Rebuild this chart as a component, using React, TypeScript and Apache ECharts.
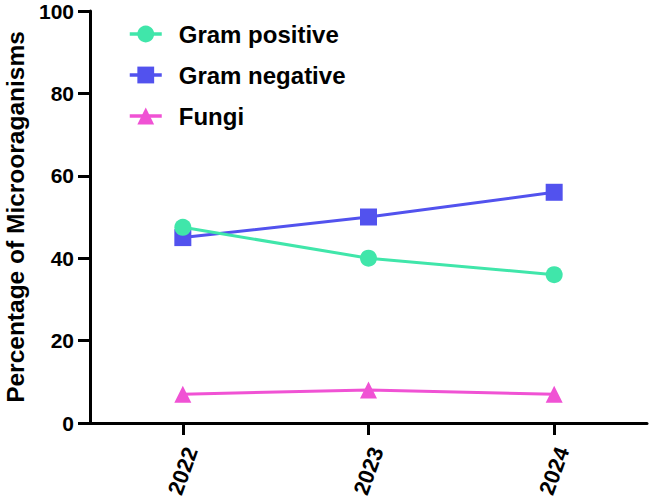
import React, { useEffect, useRef } from "react";
import * as echarts from "echarts";

const years = ["2022", "2023", "2024"];
const gramPositive = [47.5, 40, 36];
const gramNegative = [45, 50, 56];
const fungi = [7, 8, 7];
const yTicks = { min: 0, max: 100, interval: 20 };

const FONT = "'Liberation Sans', Arial, Helvetica, sans-serif";

export default function App() {
  const ref = useRef<HTMLDivElement>(null);
  useEffect(() => {
    document.body.style.margin = "0";
    if (!ref.current) return;
    const chart = echarts.init(ref.current, undefined, { renderer: "svg" });
    const axisLine = { show: true, lineStyle: { color: "#000", width: 3 } };
    const mk = (name: string, data: number[], color: string, symbol: string, z: number) => ({
      name,
      type: "line",
      data,
      symbol,
      symbolSize: 17,
      showAllSymbol: true,
      z,
      itemStyle: { color },
      lineStyle: { color, width: 3 },
      emphasis: { disabled: true },
    });
    chart.setOption({
      animation: false,
      backgroundColor: "#fff",
      grid: { left: 90, right: 6, top: 11, bottom: 81, containLabel: false, outerBoundsMode: "none" },
      legend: {
        orient: "vertical",
        left: 123,
        top: 17,
        itemWidth: 32,
        itemHeight: 21,
        itemGap: 17,
        data: ["Gram positive", "Gram negative", "Fungi"],
        lineStyle: { width: 3.5 },
        textStyle: {
          fontFamily: FONT,
          fontWeight: "bold",
          fontSize: 24,
          color: "#000",
          padding: [0, 0, 0, 12],
        },
      },
      xAxis: {
        type: "category",
        data: years,
        boundaryGap: true,
        axisLine,
        axisTick: { show: true, alignWithLabel: true, length: 12, lineStyle: { color: "#000", width: 3 } },
        axisLabel: {
          rotate: 70,
          margin: 48,
          align: "center",
          verticalAlign: "middle",
          fontFamily: FONT,
          fontWeight: "bold",
          fontSize: 22,
          color: "#000",
        },
        splitLine: { show: false },
      },
      yAxis: {
        type: "value",
        min: yTicks.min,
        max: yTicks.max,
        interval: yTicks.interval,
        name: "Percentage of Microoraganisms",
        nameLocation: "middle",
        nameGap: 58,
        nameTextStyle: { fontFamily: FONT, fontWeight: "bold", fontSize: 24.5, color: "#000" },
        axisLine,
        axisTick: { show: true, length: 12, lineStyle: { color: "#000", width: 3 } },
        axisLabel: { margin: 16, fontFamily: FONT, fontWeight: "bold", fontSize: 21, color: "#000" },
        splitLine: { show: false },
      },
      series: [
        mk("Gram positive", gramPositive, "#40E6AA", "circle", 5),
        mk("Gram negative", gramNegative, "#5252EE", "rect", 4),
        mk("Fungi", fungi, "#F052D4", "triangle", 3),
      ],
    });
    return () => chart.dispose();
  }, []);
  return <div ref={ref} style={{ width: 653, height: 504 }} />;
}
